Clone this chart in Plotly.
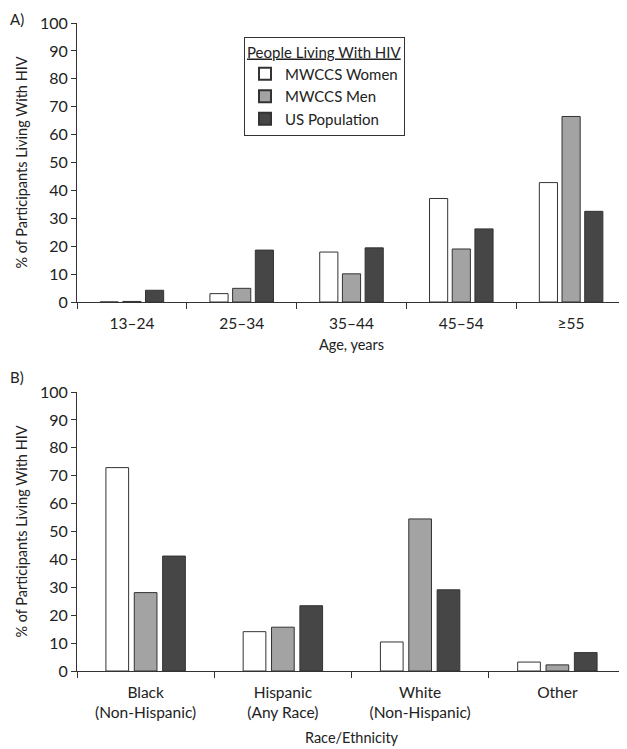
import plotly.graph_objects as go

age_groups = ["13–24", "25–34", "35–44", "45–54", "≥55"]
age_women = [0.0, 3.0, 17.9, 37.1, 42.8]
age_men = [0.2, 4.9, 10.1, 19.0, 66.5]
age_us = [4.2, 18.6, 19.4, 26.2, 32.5]

race_groups = ["Black<br>(Non-Hispanic)", "Hispanic<br>(Any Race)", "White<br>(Non-Hispanic)", "Other"]
race_women = [72.9, 14.1, 10.4, 3.2]
race_men = [28.1, 15.7, 54.5, 2.2]
race_us = [41.2, 23.4, 29.1, 6.6]

series_names = ["MWCCS Women", "MWCCS Men", "US Population"]
colors = ["#ffffff", "#a3a3a3", "#464646"]
FONT = "Lato"
TXT = "#222222"

fig = go.Figure()
for name, vals, col in zip(series_names, [age_women, age_men, age_us], colors):
    fig.add_trace(go.Bar(x=age_groups, y=vals, name=name, marker=dict(color=col, line=dict(color="#333333", width=1)),
                         xaxis="x", yaxis="y", showlegend=True))
for name, vals, col in zip(series_names, [race_women, race_men, race_us], colors):
    fig.add_trace(go.Bar(x=race_groups, y=vals, name=name, marker=dict(color=col, line=dict(color="#333333", width=1)),
                         xaxis="x2", yaxis="y2", showlegend=False))

# page body has an 8px margin, so the figure is drawn 8px in from the top-left corner
OFF = 8
W, H = 627 - OFF, 749 - OFF


def px(x):
    return (x - OFF) / W


def py(y):
    return 1 - (y - OFF) / H


xdom = [px(77), px(626)]
XTF = dict(family=FONT, size=15.5, color=TXT)
YTF = dict(family=FONT, size=16, color=TXT)
AF = dict(family=FONT, size=14.5, color=TXT)
xcommon = dict(showline=True, linecolor="#333333", linewidth=1, ticks="outside", tickcolor="#333333",
               ticklen=6, showgrid=False, zeroline=False, tickfont=XTF, automargin=False, tickson="boundaries",
               ticklabelstandoff=7)
ycommon = dict(showline=True, linecolor="#333333", linewidth=1, ticks="outside", tickcolor="#333333",
               ticklen=5, showgrid=False, zeroline=False, tickfont=YTF, automargin=False,
               range=[0, 100], dtick=10)

fig.update_layout(
    width=W, height=H,
    margin=dict(l=0, r=0, t=0, b=0),
    paper_bgcolor="white", plot_bgcolor="white",
    barmode="group", bargap=0.38, bargroupgap=0.2,
    font=dict(family=FONT, size=15, color=TXT),
    xaxis=dict(domain=xdom, anchor="y", title=dict(text="Age, years", font=AF, standoff=9), **xcommon),
    yaxis=dict(domain=[py(302), py(23)], anchor="x",
               title=dict(text="% of Participants Living With HIV", font=AF, standoff=8), **ycommon),
    xaxis2=dict(domain=xdom, anchor="y2", title=dict(text="Race/Ethnicity", font=AF, standoff=13), **xcommon),
    yaxis2=dict(domain=[py(671), py(392)], anchor="x2",
                title=dict(text="% of Participants Living With HIV", font=AF, standoff=8), **ycommon),
    legend=dict(x=px(244), y=py(37), xanchor="left", yanchor="top",
                bordercolor="#333333", borderwidth=1, bgcolor="white",
                title=dict(text="<u>People Living With HIV</u>", side="top", font=dict(family=FONT, size=15, color=TXT)),
                font=dict(family=FONT, size=15, color=TXT), tracegroupgap=0, itemsizing="constant",
                entrywidth=140, entrywidthmode="pixels"),
    annotations=[
        dict(text="A)", x=0, y=1, xref="paper", yref="paper", xanchor="left", yanchor="top", showarrow=False,
             font=dict(family=FONT, size=15, color=TXT)),
        dict(text="B)", x=0, y=py(366), xref="paper", yref="paper", xanchor="left", yanchor="top", showarrow=False,
             font=dict(family=FONT, size=15, color=TXT)),
    ],
)

fig.write_html("out.html")
